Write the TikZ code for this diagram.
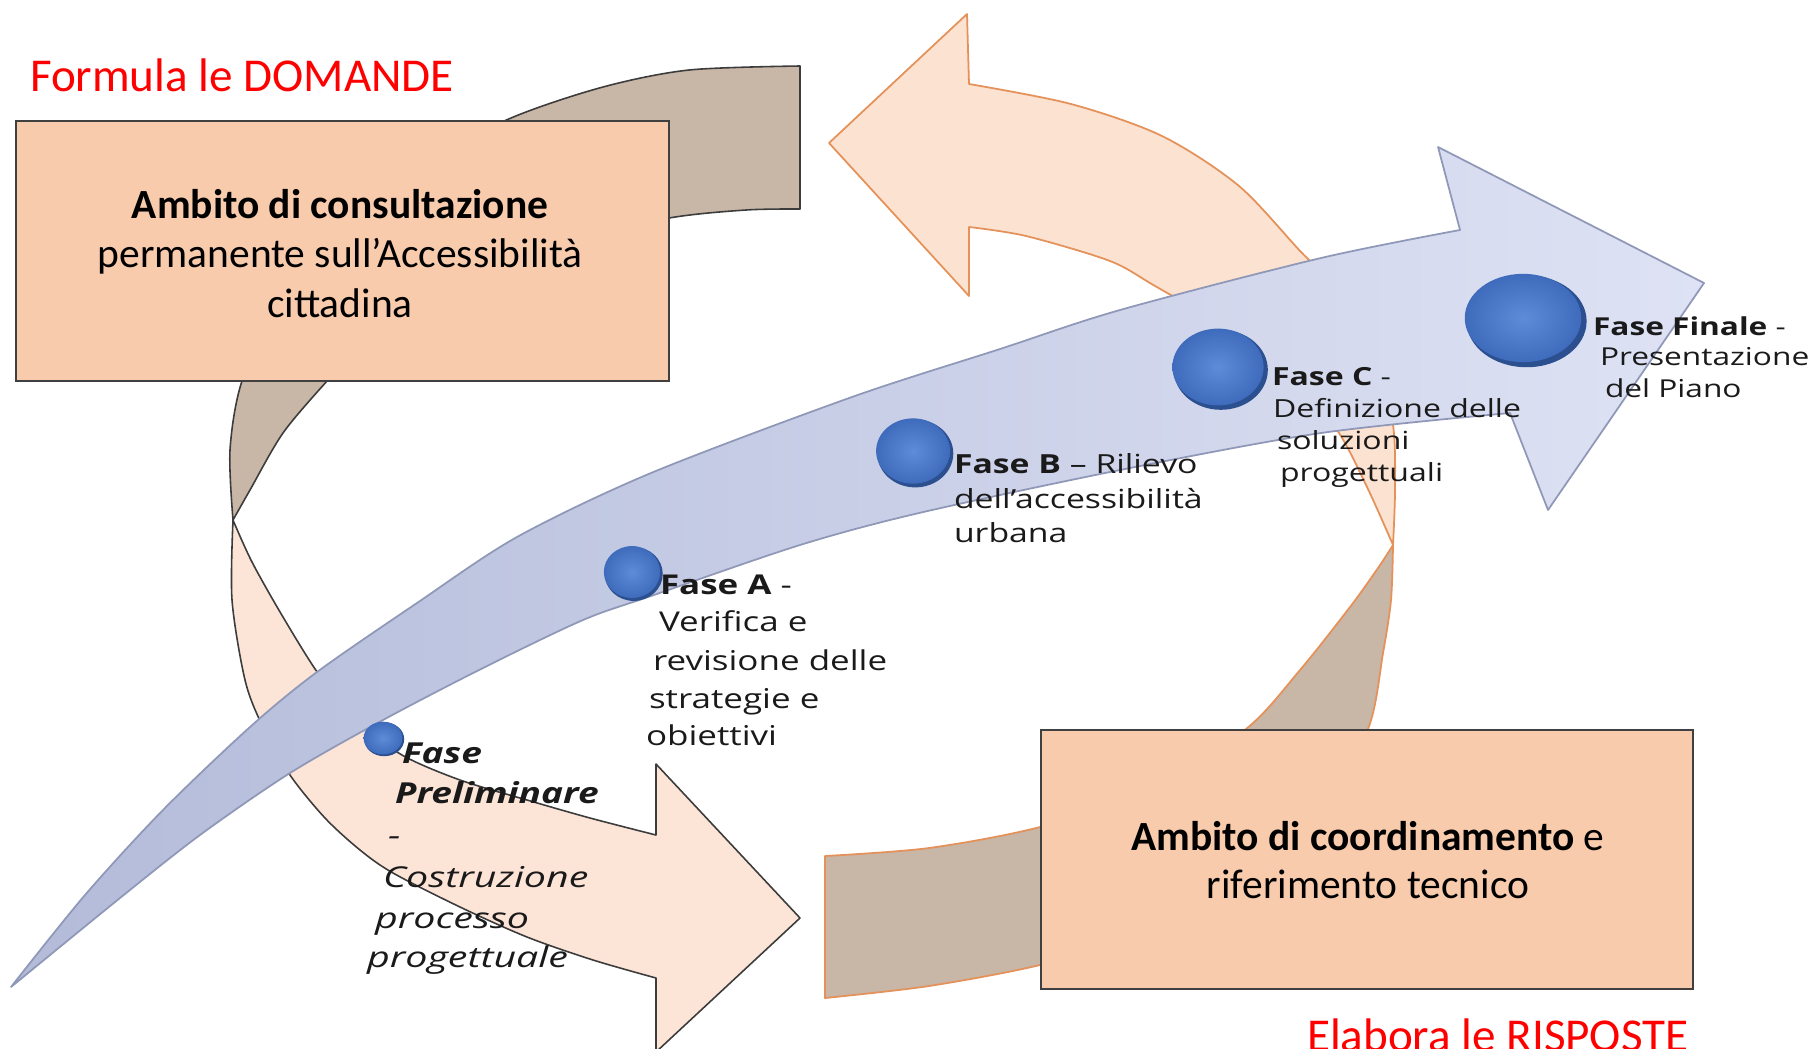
\documentclass[tikz,border=0pt]{standalone}
\usepackage{fontspec}
\usepackage{graphicx}
\setmainfont{Carlito}
\newfontfamily\osans{Open Sans}
\definecolor{boxfill}{HTML}{F8CBAD}
\definecolor{boxline}{HTML}{404040}
\definecolor{brownback}{HTML}{C8B6A7}
\definecolor{peachL}{HTML}{FCE4D6}
\definecolor{peachR}{HTML}{FBE2D1}
\definecolor{lineL}{HTML}{3C3C3C}
\definecolor{lineR}{HTML}{E4915A}
\definecolor{blueL}{HTML}{B3BBD9}
\definecolor{blueR}{HTML}{DEE2F4}
\definecolor{blueline}{HTML}{9098B8}
\definecolor{dotlight}{HTML}{5E8CD8}
\definecolor{dotdark}{HTML}{3E6BBB}
\definecolor{dotrim}{HTML}{2B4F8F}
\definecolor{txt}{HTML}{1A1A1A}
\definecolor{redtxt}{HTML}{FF0000}
\newcommand{\ftBox}{\fontsize{11.8pt}{14pt}\selectfont}
\newcommand{\ftRed}{\fontsize{13.4pt}{16pt}\selectfont}
\newcommand{\ftPre}{\osans\fontsize{10.55pt}{12pt}\selectfont}
\newcommand{\ftPreIt}{\osans\fontsize{11.2pt}{13pt}\selectfont}
\newcommand{\ftA}{\osans\fontsize{9.95pt}{12pt}\selectfont}
\newcommand{\ftB}{\osans\fontsize{9.6pt}{11pt}\selectfont}
\newcommand{\ftC}{\osans\fontsize{9.1pt}{11pt}\selectfont}
\newcommand{\ftFin}{\osans\fontsize{9.0pt}{11pt}\selectfont}
\newcommand{\squish}[1]{\scalebox{1}[0.78]{#1}}
\newcommand{\squishmore}[1]{\scalebox{1}[0.73]{#1}}
\begin{document}
\begin{tikzpicture}[x=0.01cm,y=-0.01cm,
  box/.style={draw=boxline, fill=boxfill, line width=0.5pt, inner sep=0pt},
  backL/.style={fill=brownback, draw=lineL, line width=0.45pt, line join=round},
  frontL/.style={fill=peachL, draw=lineL, line width=0.45pt, line join=round},
  backR/.style={fill=brownback, draw=lineR, line width=0.5pt, line join=round},
  frontR/.style={fill=peachR, draw=lineR, line width=0.5pt, line join=round},
  bluearrow/.style={left color=blueL, right color=blueR, draw=blueline, line width=0.5pt, line join=round},
  lbl/.style={anchor=base west, inner sep=0pt, outer sep=0pt, text=txt},
  ctr/.style={anchor=base, inner sep=0pt, outer sep=0pt, text=black},
  redlbl/.style={anchor=base west, inner sep=0pt, outer sep=0pt, text=redtxt}]
\useasboundingbox (0,0) rectangle (1813,1048);
\clip (0,0) rectangle (1813,1048);

% ---- left curved arrow: back (brown) ----
\path[backL] (800,66) -- plot[smooth] coordinates {(800,66) (689,70) (603,87) (511,118) (420,165) (345,225) (280,300) (242,381) (230,450) (233,520)}
  -- plot[smooth] coordinates {(233,520) (250,490) (283,433) (327,381) (370,335) (450,285) (560,242) (669,218) (746,210) (800,209)} -- cycle;
% ---- left curved arrow: front (peach) ----
\path[frontL] (233,520) -- plot[smooth] coordinates {(233,520) (232,600) (245,680) (262,725) (290,775) (325,818) (360,850) (393,873) (460,907) (527,937) (593,960) (656,978)}
  -- (656,1052) -- (800,918) -- (656,764) -- (656,835)
  -- plot[smooth] coordinates {(656,835) (590,818) (527,800) (460,780) (402,755) (360,722) (320,676) (283,617) (252,562) (233,520)} -- cycle;

% ---- right curved arrow: back (brown) ----
\path[backR] (825,856) -- plot[smooth] coordinates {(825,856) (929,848) (1040,827) (1150,790) (1246,729) (1300,670) (1350,607) (1378,568) (1393,545)}
  -- plot[smooth] coordinates {(1393,545) (1391,600) (1383,653) (1368,729) (1320,810) (1230,880) (1140,935) (1040,965) (929,986) (825,998)} -- cycle;
% ---- right curved arrow: front (peach) ----
\path[frontR] (1393,545) -- plot[smooth] coordinates {(1393,545) (1395,490) (1393,425) (1375,350) (1342,292) (1302,253) (1239,186) (1162,136) (1071,104) (969,84)}
  -- (967,14) -- (829,143) -- (969,296) -- (969,227)
  -- plot[smooth] coordinates {(969,227) (1026,236) (1110,261) (1155,286) (1230,330) (1290,375) (1337,430) (1367,487) (1393,545)} -- cycle;

% ---- boxes ----
\node[box, minimum width=6.53cm, minimum height=2.60cm] (consult) at (342.5,251) {};
\node[box, minimum width=6.52cm, minimum height=2.59cm] (coord) at (1367,859.5) {};

% ---- main blue arrow ----
\path[bluearrow] (11,987) -- plot[smooth] coordinates {(11,987) (85,895) (163,810) (250,727) (317,672) (417,603) (517,537) (651,473) (852,397) (1000,349) (1120,310) (1321,258) (1460,230)}
  -- (1438,147) -- (1704,283) -- (1548,510) -- (1510,413)
  -- plot[smooth] coordinates {(1510,413) (1321,433) (1120,470) (919,513) (800,545) (651,596) (583,620) (483,668) (383,720) (290,773) (200,835) (120,898) (11,987)} -- cycle;

% ---- phase dots ----
\foreach \cx/\cy/\rx/\ry in {383/738/20/17, 632/572/29/27, 913/451/38/34, 1218/367/47/40, 1523/318/60/46}{
  \fill[dotrim] (\cx+0.06*\rx,\cy+0.07*\ry) ellipse [x radius=\rx*0.01cm, y radius=\ry*0.01cm];
  \shade[inner color=dotlight, outer color=dotdark] (\cx,\cy) ellipse [x radius=\rx*0.0097cm, y radius=\ry*0.0096cm];
}

% ---- box texts ----
\node[ctr] (c1) at (340,218) {\ftBox\textbf{Ambito di consultazione}};
\node[ctr] (c2) at (340,267) {\ftBox permanente sull’Accessibilità};
\node[ctr] (c3) at (340,317) {\ftBox cittadina};
\node[ctr] (d1) at (1368,850) {\ftBox\textbf{Ambito di coordinamento} e};
\node[ctr] (d2) at (1368,898) {\ftBox riferimento tecnico};

% ---- red labels ----
\node[redlbl] (q) at (30,91) {\ftRed Formula le DOMANDE};
\node[redlbl] (r) at (1307,1051) {\ftRed Elabora le RISPOSTE};

% ---- phase labels ----
\node[lbl] (p1) at (402,763) {\ftPre\squish{\textbf{\textit{Fase}}}};
\node[lbl] (p2) at (395,803) {\ftPre\squish{\textbf{\textit{Preliminare}}}};
\node[lbl] (p3) at (388,845) {\ftPreIt\squishmore{\textit{-}}};
\node[lbl] (p4) at (383,887) {\ftPreIt\squishmore{\textit{Costruzione}}};
\node[lbl] (p5) at (375,928) {\ftPreIt\squishmore{\textit{processo}}};
\node[lbl] (p6) at (367,967) {\ftPreIt\squishmore{\textit{progettuale}}};

\node[lbl] (a1) at (660,594) {\ftA\squish{\textbf{Fase A} -}};
\node[lbl] (a2) at (659,631) {\ftA\squish{Verifica e}};
\node[lbl] (a3) at (653,670) {\ftA\squish{revisione delle}};
\node[lbl] (a4) at (649,708) {\ftA\squish{strategie e}};
\node[lbl] (a5) at (646,745) {\ftA\squish{obiettivi}};

\node[lbl] (b1) at (954,473) {\ftB\squish{\textbf{Fase B} – Rilievo}};
\node[lbl] (b2) at (954,508) {\ftB\squish{dell’accessibilità}};
\node[lbl] (b3) at (954,542) {\ftB\squish{urbana}};

\node[lbl] (cc1) at (1272,385) {\ftC\squish{\textbf{Fase C} -}};
\node[lbl] (cc2) at (1273,417) {\ftC\squish{Definizione delle}};
\node[lbl] (cc3) at (1277,449) {\ftC\squish{soluzioni}};
\node[lbl] (cc4) at (1280,481) {\ftC\squish{progettuali}};

\node[lbl] (f1) at (1593,335) {\ftFin\squish{\textbf{Fase Finale} -}};
\node[lbl] (f2) at (1600,365) {\ftFin\squish{Presentazione}};
\node[lbl] (f3) at (1605,397) {\ftFin\squish{del Piano}};
\end{tikzpicture}
\end{document}
